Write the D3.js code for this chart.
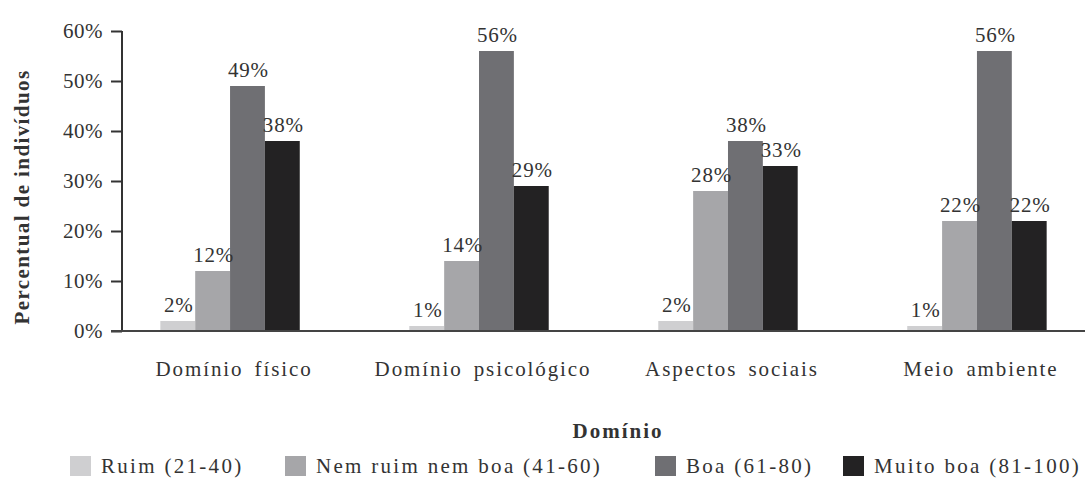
<!DOCTYPE html>
<html>
<head>
<meta charset="utf-8">
<script src="https://cdn.jsdelivr.net/npm/d3@7"></script>
<style>
  body { margin: 0; background: #fff; }
</style>
</head>
<body>
<div class="chart"></div>
<script>
// data
var dominios = ["Domínio físico", "Domínio psicológico", "Aspectos sociais", "Meio ambiente"]
var faixas = ["Ruim (21-40)", "Nem ruim nem boa (41-60)", "Boa (61-80)", "Muito boa (81-100)"]
var ruim = [2, 1, 2, 1]
var nemRuimNemBoa = [12, 14, 28, 22]
var boa = [49, 56, 38, 56]
var muitoBoa = [38, 29, 33, 22]
var yTicks = [0, 10, 20, 30, 40, 50, 60]

var series = [ruim, nemRuimNemBoa, boa, muitoBoa]
var cores = ["#cfcfd1", "#a6a6a9", "#6f6f73", "#232223"]
var fonte = "'Liberation Serif', 'Times New Roman', serif"

var W = 1085, H = 494
var svg = d3.select(".chart").append("svg")
    .attr("width", W).attr("height", H)

var x0 = d3.scaleBand().domain(dominios).range([122, 1085])
    .paddingInner(0.44).paddingOuter(0.154)
var x1 = d3.scaleBand().domain(d3.range(faixas.length)).range([0, x0.bandwidth()])
var y = d3.scaleLinear().domain([0, 60]).range([331, 31])

// bars
var grupos = svg.selectAll("g.grupo").data(dominios).enter().append("g")
    .attr("class", "grupo")
    .attr("transform", function(d) { return "translate(" + x0(d) + ",0)" })

function porGrupo(d, i) {
    return series.map(function(s, k) { return { k: k, v: s[i] } })
}

grupos.selectAll("rect").data(porGrupo).enter().append("rect")
    .attr("x", function(d) { return x1(d.k) })
    .attr("width", x1.bandwidth())
    .attr("y", function(d) { return y(d.v) })
    .attr("height", function(d) { return y(0) - y(d.v) })
    .attr("fill", function(d) { return cores[d.k] })

grupos.selectAll("text.val").data(porGrupo).enter().append("text")
    .attr("class", "val")
    .attr("x", function(d) { return x1(d.k) + x1.bandwidth() / 2 + 1 })
    .attr("y", function(d) { return y(d.v) - 9 })
    .attr("text-anchor", "middle")
    .style("font-family", fonte).style("font-size", "21px")
    .style("letter-spacing", "0.8px")
    .attr("fill", "#333")
    .text(function(d) { return d.v + "%" })

// y axis
var yAxis = svg.append("g").attr("transform", "translate(122,0)")
    .call(d3.axisLeft(y).tickValues(yTicks).tickSize(11).tickPadding(8)
        .tickFormat(function(d) { return d + "%" }))
yAxis.select(".domain").attr("d", "M0," + y(60) + "V" + y(0)).attr("stroke", "#333").attr("stroke-width", 2)
yAxis.selectAll(".tick line").attr("stroke", "#333").attr("stroke-width", 2)
yAxis.selectAll(".tick text")
    .style("font-family", fonte).style("font-size", "21px")
    .style("letter-spacing", "0.5px")
    .attr("fill", "#333")

// x axis line
svg.append("line").attr("x1", 111).attr("x2", W).attr("y1", y(0)).attr("y2", y(0))
    .attr("stroke", "#444").attr("stroke-width", 2)

svg.selectAll("text.cat").data(dominios).enter().append("text")
    .attr("class", "cat")
    .attr("x", function(d) { return x0(d) + x0.bandwidth() / 2 + 4 })
    .attr("y", 376)
    .attr("text-anchor", "middle")
    .style("font-family", fonte).style("font-size", "21px")
    .style("letter-spacing", "1.9px")
    .style("word-spacing", "4px")
    .attr("fill", "#333")
    .text(function(d) { return d })

// axis titles
svg.append("text")
    .attr("transform", "translate(29,197) rotate(-90)")
    .attr("text-anchor", "middle")
    .style("font-family", fonte).style("font-size", "21px").style("font-weight", "bold")
    .style("letter-spacing", "1.4px")
    .attr("fill", "#333")
    .text("Percentual de indivíduos")

svg.append("text")
    .attr("x", 618).attr("y", 438)
    .attr("text-anchor", "middle")
    .style("font-family", fonte).style("font-size", "21px").style("font-weight", "bold")
    .style("letter-spacing", "2px")
    .attr("fill", "#333")
    .text("Domínio")

// legend
var legX = [70, 285, 655, 843]
var leg = svg.selectAll("g.leg").data(faixas).enter().append("g")
    .attr("class", "leg")
    .attr("transform", function(d, i) { return "translate(" + legX[i] + ",456)" })
leg.append("rect").attr("width", 21).attr("height", 20)
    .attr("fill", function(d, i) { return cores[i] })
leg.append("text").attr("x", 31).attr("y", 17)
    .style("font-family", fonte).style("font-size", "21px")
    .style("letter-spacing", "2.3px")
    .attr("fill", "#333")
    .text(function(d) { return d })
</script>
</body>
</html>
